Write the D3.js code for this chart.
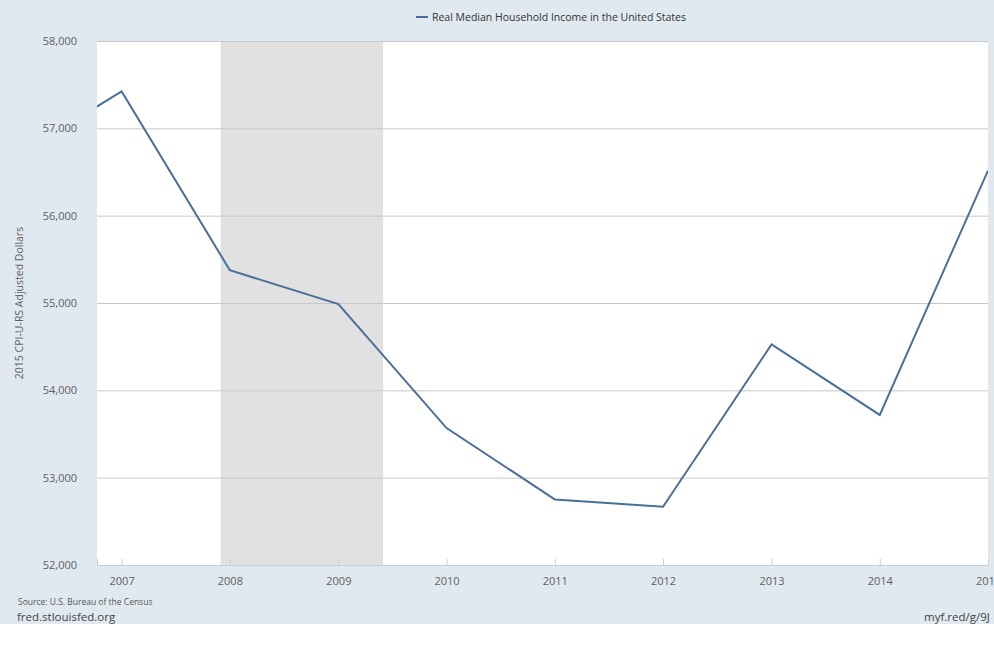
<!DOCTYPE html>
<html>
<head>
<meta charset="utf-8">
<script src="https://cdn.jsdelivr.net/npm/d3@7"></script>
<style>
  html, body { margin: 0; padding: 0; background: #fff; }
  svg { display: block; font-family: "Open Sans", sans-serif; }
</style>
</head>
<body>
<svg id="chart" width="994" height="663"></svg>
<script>
// data (annual, 2015 CPI-U-RS dollars)
const years = [2006, 2007, 2008, 2009, 2010, 2011, 2012, 2013, 2014, 2015];
const income = [56663, 57423, 55376, 54988, 53568, 52751, 52666, 54525, 53718, 56516];
const yTicks = [52000, 53000, 54000, 55000, 56000, 57000, 58000];
const xTickYears = [2007, 2008, 2009, 2010, 2011, 2012, 2013, 2014, 2015];
const recession = [new Date(2007, 11, 1), new Date(2009, 5, 1)];

const svg = d3.select('#chart');
const W = 994, H = 663;
const plot = { left: 97, right: 988, top: 41, bottom: 565 };

// page background
svg.append('rect').attr('x', 0).attr('y', 0).attr('width', W).attr('height', 624).attr('fill', '#e1e9f0');

const x = d3.scaleTime()
  .domain([new Date(2006, 9, 10), new Date(2015, 0, 1)])
  .range([plot.left, plot.right]);
const y = d3.scaleLinear().domain([52000, 58000]).range([plot.bottom, plot.top]);

svg.append('rect')
  .attr('x', plot.left).attr('y', plot.top)
  .attr('width', plot.right - plot.left).attr('height', plot.bottom - plot.top)
  .attr('fill', '#fff');

svg.append('defs').append('clipPath').attr('id', 'clip')
  .append('rect')
  .attr('x', plot.left).attr('y', plot.top)
  .attr('width', plot.right - plot.left).attr('height', plot.bottom - plot.top);

// recession shading
svg.append('rect')
  .attr('x', x(recession[0])).attr('y', plot.top)
  .attr('width', x(recession[1]) - x(recession[0]))
  .attr('height', plot.bottom - plot.top)
  .attr('fill', '#e1e1e1');

// gridlines + y labels
const yAxis = svg.append('g')
  .attr('transform', `translate(${plot.left},0)`)
  .call(d3.axisLeft(y).tickValues(yTicks).tickSize(-(plot.right - plot.left)).tickPadding(20)
    .tickFormat(d3.format(',')));
yAxis.select('.domain').remove();
yAxis.selectAll('.tick line').attr('stroke', '#c8c8c8').attr('stroke-width', 1);
yAxis.selectAll('.tick text').attr('fill', '#606060').attr('font-size', '11px')
  .attr('font-family', '"Open Sans", sans-serif');

// x axis
const xAxis = svg.append('g')
  .attr('transform', `translate(0,${plot.bottom})`)
  .call(d3.axisBottom(x).tickValues(xTickYears.map(yr => new Date(yr, 0, 1)))
    .tickSize(-6).tickPadding(12).tickFormat(d3.timeFormat('%Y')));
xAxis.select('.domain').attr('stroke', '#c0d0e0');
xAxis.selectAll('.tick line').attr('stroke', '#c0d0e0');
xAxis.selectAll('.tick text').attr('fill', '#606060').attr('font-size', '11px')
  .attr('font-family', '"Open Sans", sans-serif');

// series line
const line = d3.line()
  .x((d, i) => x(new Date(years[i], 0, 1)))
  .y(d => y(d));
svg.append('path')
  .datum(income)
  .attr('clip-path', 'url(#clip)')
  .attr('d', line)
  .attr('fill', 'none')
  .attr('stroke', '#4a6f9a')
  .attr('stroke-width', 2)
  .attr('stroke-linejoin', 'miter');

// y axis title
svg.append('text')
  .attr('transform', 'translate(23,303) rotate(-90)')
  .attr('text-anchor', 'middle')
  .attr('fill', '#606060')
  .attr('font-size', '10.5px')
  .text('2015 CPI-U-RS Adjusted Dollars');

// legend
svg.append('line')
  .attr('x1', 416).attr('x2', 428).attr('y1', 17).attr('y2', 17)
  .attr('stroke', '#4a6f9a').attr('stroke-width', 2);
svg.append('text')
  .attr('x', 432).attr('y', 21)
  .attr('fill', '#333')
  .attr('font-size', '10.5px')
  .attr('textLength', 254).attr('lengthAdjust', 'spacingAndGlyphs')
  .text('Real Median Household Income in the United States');

// footer
svg.append('text')
  .attr('x', 18).attr('y', 605)
  .attr('fill', '#555').attr('font-size', '8.5px')
  .text('Source: U.S. Bureau of the Census');
svg.append('text')
  .attr('x', 17).attr('y', 621)
  .attr('fill', '#444').attr('font-size', '11.5px')
  .text('fred.stlouisfed.org');
svg.append('text')
  .attr('x', 924).attr('y', 621)
  .attr('fill', '#444').attr('font-size', '11.5px')
  .text('myf.red/g/9J');
</script>
</body>
</html>
